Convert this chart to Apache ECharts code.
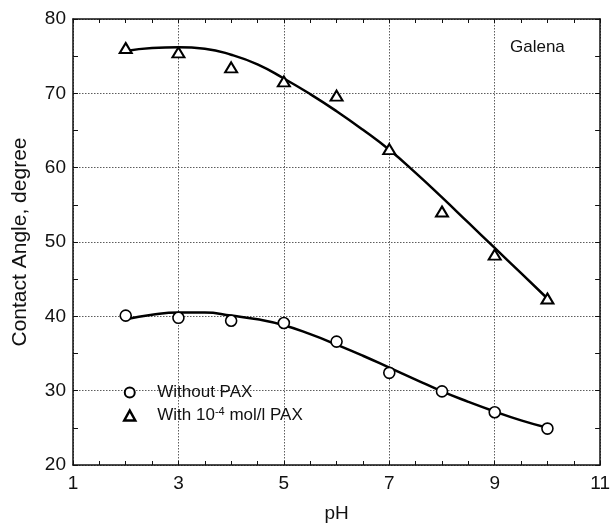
<!DOCTYPE html>
<html>
<head>
<meta charset="utf-8">
<script src="https://cdn.jsdelivr.net/npm/echarts@6/dist/echarts.min.js"></script>
<style>html,body{margin:0;padding:0;background:#fff}#c{width:613px;height:528px}</style>
</head>
<body>
<div id="c"></div>
<script>
// pH values of the measurements
const phValues = [2, 3, 4, 5, 6, 7, 8, 9, 10];
// Measured contact angles (degree)
const withoutPax = [40.1, 39.8, 39.4, 39.1, 36.6, 32.4, 29.9, 27.1, 24.9];
const withPax = [76.1, 75.5, 73.5, 71.6, 69.7, 62.5, 54.1, 48.3, 42.4];
// Fitted trend curves
const fitPh = [2, 2.5, 3, 3.5, 4, 4.5, 5, 5.5, 6, 6.5, 7, 7.5, 8, 8.5, 9, 9.5, 10];
const fitWithout = [39.6, 40.2, 40.5, 40.5, 40.1, 39.6, 38.8, 37.6, 36.2, 34.7, 33.1, 31.5, 29.9, 28.5, 27.2, 26.0, 25.0];
const fitWith = [75.7, 76.1, 76.2, 76.0, 75.2, 73.9, 72.0, 69.9, 67.6, 65.1, 62.4, 59.3, 56.0, 52.6, 49.2, 45.8, 42.4];
const xTicks = [1, 3, 5, 7, 9, 11];
const yTicks = [20, 30, 40, 50, 60, 70, 80];

const pair = (xs, ys) => xs.map((x, i) => [x, ys[i]]);
const font = 'Liberation Sans, Arial, sans-serif';
const ink = '#111';
const gridDot = { show: true, lineStyle: { color: '#333', type: [1.5, 1.5], width: 0.8 } };
const frameLine = { show: true, lineStyle: { color: ink, width: 1.5 } };
const inTick = len => ({ show: true, inside: true, length: len, lineStyle: { color: ink } });

const chart = echarts.init(document.getElementById('c'), null, { renderer: 'canvas' });
chart.setOption({
  animation: false,
  backgroundColor: '#fff',
  grid: { left: 73, right: 10, top: 19, bottom: 59 },
  legend: {
    orient: 'vertical',
    left: 118,
    top: 378,
    itemGap: 4,
    itemWidth: 11,
    itemHeight: 10,
    textStyle: {
      fontFamily: font, fontSize: 17, color: ink, padding: [0, 0, 0, 17], lineHeight: 19,
      rich: {
        sup: { fontSize: 11, verticalAlign: 'top', padding: [0, 0, 8, 0], fontFamily: font, color: ink },
        n: { fontSize: 17, fontFamily: font, color: ink }
      }
    },
    data: [
      { name: 'Without PAX', itemStyle: { borderWidth: 2 } },
      { name: 'With PAX', itemStyle: { borderWidth: 2.5 } }
    ],
    formatter: function (name) {
      return name === 'With PAX' ? '{n|With 10}{sup|-4}{n| mol/l PAX}' : name;
    }
  },
  xAxis: [{
    type: 'value', min: 1, max: 11, interval: 2,
    name: 'pH', nameLocation: 'middle', nameGap: 39,
    nameTextStyle: { fontFamily: font, fontSize: 19, color: ink },
    axisLine: frameLine,
    axisTick: inTick(4),
    minorTick: { show: true, splitNumber: 4, length: 4, lineStyle: { color: ink } },
    axisLabel: { fontFamily: font, fontSize: 19, color: ink, margin: 9,
      formatter: v => xTicks.includes(v) ? String(v) : '' },
    splitLine: gridDot
  }, {
    type: 'value', min: 1, max: 11, interval: 2, position: 'top',
    axisLine: frameLine,
    axisTick: inTick(4),
    minorTick: { show: true, splitNumber: 4, length: 4, lineStyle: { color: ink } },
    axisLabel: { show: false }, splitLine: { show: false }
  }],
  yAxis: [{
    type: 'value', min: 20, max: 80, interval: 10,
    name: 'Contact Angle, degree', nameLocation: 'middle', nameGap: 42,
    nameTextStyle: { fontFamily: font, fontSize: 21, color: ink },
    axisLine: frameLine,
    axisTick: inTick(5),
    minorTick: { show: true, splitNumber: 2, length: 5, lineStyle: { color: ink } },
    axisLabel: { fontFamily: font, fontSize: 19, color: ink, margin: 7,
      formatter: v => yTicks.includes(v) ? String(v) : '' },
    splitLine: gridDot
  }, {
    type: 'value', min: 20, max: 80, interval: 10, position: 'right',
    axisLine: frameLine,
    axisTick: inTick(5),
    minorTick: { show: true, splitNumber: 2, length: 5, lineStyle: { color: ink } },
    axisLabel: { show: false }, splitLine: { show: false }
  }],
  graphic: [{
    type: 'text', left: 510, top: 39,
    style: { text: 'Galena', font: '17px ' + font, fill: ink }
  }],
  series: [{
    name: 'fit without', type: 'line', data: pair(fitPh, fitWithout), smooth: true,
    showSymbol: false, lineStyle: { color: '#000', width: 2.5 }, z: 2, silent: true
  }, {
    name: 'fit with', type: 'line', data: pair(fitPh, fitWith), smooth: true,
    showSymbol: false, lineStyle: { color: '#000', width: 2.5 }, z: 2, silent: true
  }, {
    name: 'Without PAX', type: 'scatter', data: pair(phValues, withoutPax),
    symbol: 'circle', symbolSize: 11, z: 3,
    itemStyle: { color: '#fff', borderColor: '#000', borderWidth: 1.6, opacity: 1 }
  }, {
    name: 'With PAX', type: 'scatter', data: pair(phValues, withPax),
    symbol: 'triangle', symbolSize: [12, 10], z: 3,
    itemStyle: { color: '#fff', borderColor: '#000', borderWidth: 2, opacity: 1 }
  }]
});
</script>
</body>
</html>
